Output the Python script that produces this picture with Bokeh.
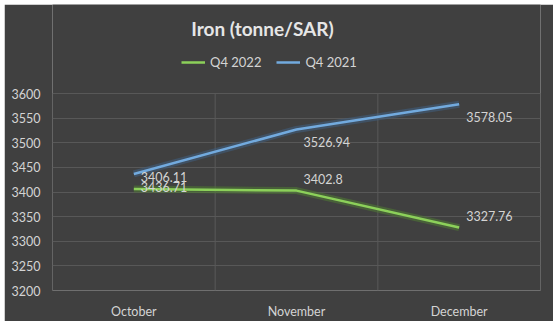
from bokeh.plotting import figure
from bokeh.models import (ColumnDataSource, Range1d, FixedTicker, Label,
                          LabelSet, Legend, LegendItem)
from bokeh.core.properties import value
from bokeh.embed import file_html
from bokeh.resources import INLINE

# ---- data ----
months = ["October", "November", "December"]
q4_2022 = [3406.11, 3402.8, 3327.76]
q4_2021 = [3436.71, 3526.94, 3578.05]
y_ticks = [3200, 3250, 3300, 3350, 3400, 3450, 3500, 3550, 3600]
title_text = "Iron (tonne/SAR)"
series_names = ["Q4 2022", "Q4 2021"]

BG = "#404040"
GRID = "#585858"
TXT = "#d4d4d4"
GREEN = "#8cd05a"
GREEN_GLOW = "#4f7a33"
BLUE = "#72aade"
BLUE_GLOW = "#3f5f7f"
FONT = "Lato"

FRAME_W = 488
FRAME_H = 286      # frame reaches up to the top so title/legend sit inside it
PLOT_H = 197       # pixel height of the 3200..3600 band

xs = [i + 0.5 for i in range(len(months))]
bounds = list(range(len(months) + 1))
y_lo, y_hi = y_ticks[0], y_ticks[-1]
y_top = y_lo + (y_hi - y_lo) * FRAME_H / PLOT_H

src22 = ColumnDataSource(dict(x=xs, y=q4_2022, t=[f"{v:g}" for v in q4_2022]))
src21 = ColumnDataSource(dict(x=xs, y=q4_2021, t=[f"{v:g}" for v in q4_2021]))

p = figure(frame_width=FRAME_W, frame_height=FRAME_H,
           min_border_left=48, min_border_right=13,
           min_border_top=0, min_border_bottom=31,
           x_range=Range1d(0, len(months)), y_range=Range1d(y_lo, y_top),
           output_backend="svg", toolbar_location=None,
           background_fill_color=BG, border_fill_color=BG,
           outline_line_color=None)
p.margin = (4, 0, 0, 4)

# grids
p.ygrid.ticker = FixedTicker(ticks=y_ticks)
p.ygrid.grid_line_color = GRID
p.ygrid.grid_line_width = 1
p.xgrid.visible = False
p.segment(x0=bounds, x1=bounds, y0=[y_lo] * len(bounds), y1=[y_hi] * len(bounds),
          line_color=GRID, line_width=1)

# axes
p.xaxis.ticker = FixedTicker(ticks=xs)
p.xaxis.major_label_overrides = {x: m for x, m in zip(xs, months)}
p.yaxis.ticker = FixedTicker(ticks=y_ticks)
for ax in (p.xaxis[0], p.yaxis[0]):
    ax.axis_line_color = None
    ax.major_tick_line_color = None
    ax.minor_tick_line_color = None
    ax.major_tick_out = 0
    ax.major_tick_in = 0
    ax.major_label_text_color = TXT
    ax.major_label_text_font = FONT
    ax.major_label_text_font_size = "12.5px"
p.xaxis.major_label_standoff = 13
p.yaxis.major_label_standoff = 12

# lines with glow
p.line("x", "y", source=src22, line_color=GREEN_GLOW, line_width=7, line_alpha=0.55)
p.line("x", "y", source=src21, line_color=BLUE_GLOW, line_width=7, line_alpha=0.55)
r22 = p.line("x", "y", source=src22, line_color=GREEN, line_width=2.5)
r21 = p.line("x", "y", source=src21, line_color=BLUE, line_width=2.5)

# data labels
p.add_layout(LabelSet(x="x", y="y", text="t", source=src22, x_offset=7, y_offset=12,
                      text_align="left", text_baseline="middle", text_color=TXT,
                      text_font=value(FONT), text_font_size=value("12.5px")))
p.add_layout(LabelSet(x="x", y="y", text="t", source=src21, x_offset=7, y_offset=-13,
                      text_align="left", text_baseline="middle", text_color=TXT,
                      text_font=value(FONT), text_font_size=value("12.5px")))

# title
p.add_layout(Label(x=210, y=262, x_units="screen", y_units="screen", text=title_text,
                   text_align="center", text_baseline="middle", text_color="#e6e6e6",
                   text_font=FONT, text_font_style="bold", text_font_size="19px"))

# legend
legend = Legend(items=[LegendItem(label=series_names[0], renderers=[r22]),
                       LegendItem(label=series_names[1], renderers=[r21])],
                location=(129, 218), orientation="horizontal",
                padding=0, margin=0, spacing=15, label_standoff=5,
                glyph_width=24, glyph_height=20, label_height=20,
                border_line_color=None, background_fill_alpha=0,
                label_text_color=TXT, label_text_font=FONT,
                label_text_font_size="13px")
p.add_layout(legend, "center")

open("out.html", "w").write(file_html(p, INLINE))
